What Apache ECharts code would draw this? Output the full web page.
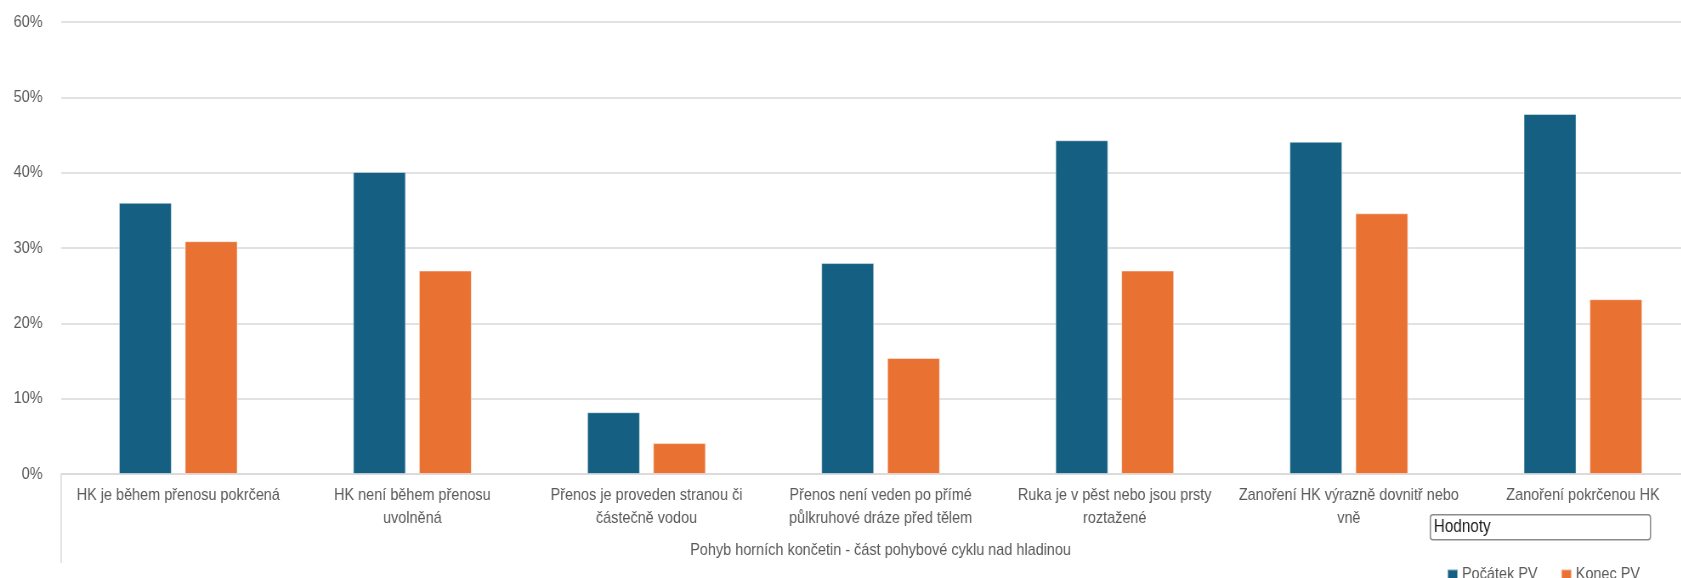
<!DOCTYPE html>
<html lang="cs">
<head>
<meta charset="utf-8">
<title>Pohyb horních končetin</title>
<script src="https://cdn.jsdelivr.net/npm/echarts@6/dist/echarts.min.js"></script>
<style>
  html, body { margin: 0; padding: 0; background: #ffffff; overflow: hidden; }
  #wrap { width: 1681px; height: 578px; overflow: hidden; }
  /* the chart is laid out wider and condensed horizontally, giving the narrow lettering */
  #chart { width: 1978px; height: 578px; transform: scaleX(0.85); transform-origin: 0 0; }
</style>
</head>
<body>
<div id="wrap"><div id="chart"></div></div>
<script>
// Categories (upper-limb movement faults during the recovery phase)
const categories = [
  'HK je během přenosu pokrčená',
  'HK není během přenosu\nuvolněná',
  'Přenos je proveden stranou či\nčástečně vodou',
  'Přenos není veden po přímé\npůlkruhové dráze před tělem',
  'Ruka je v pěst nebo jsou prsty\nroztažené',
  'Zanoření HK výrazně dovnitř nebo\nvně',
  'Zanoření pokrčenou HK'
];

// Share of swimmers (%) at the start and at the end of the course
const pocatekPV = [36.0, 40.1, 8.2, 28.0, 44.3, 44.1, 47.8];
const konecPV   = [30.9, 27.0, 4.1, 15.4, 27.0, 34.6, 23.2];

const seriesNames = ['Počátek PV', 'Konec PV'];
const axisTitle = 'Pohyb horních končetin - část pohybové cyklu nad hladinou';
const fieldButton = 'Hodnoty';

const FONT = '"Liberation Sans", Arial, sans-serif';
const TEXT_GRAY = '#595959';
const GRID_GRAY = '#d9d9d9';

const chart = echarts.init(document.getElementById('chart'), null, { renderer: 'canvas' });

chart.setOption({
  animation: false,
  backgroundColor: '#ffffff',
  textStyle: { fontFamily: FONT },
  grid: { left: 72, top: 22, width: 1928, height: 452, containLabel: false, outerBoundsMode: 'none' },
  legend: {
    data: seriesNames,
    left: 1697,
    top: 561,
    icon: 'rect',
    itemWidth: 12,
    itemHeight: 10,
    itemGap: 27,
    textStyle: { fontFamily: FONT, fontSize: 17, color: TEXT_GRAY }
  },
  xAxis: {
    type: 'category',
    data: categories,
    name: axisTitle,
    nameLocation: 'middle',
    nameGap: 68,
    nameTextStyle: { fontFamily: FONT, fontSize: 17, color: TEXT_GRAY },
    axisLine: { lineStyle: { color: GRID_GRAY, width: 1.5 } },
    axisTick: { show: false },
    axisLabel: {
      interval: 0,
      margin: 10,
      fontFamily: FONT,
      fontSize: 17,
      lineHeight: 23,
      color: TEXT_GRAY,
      align: 'center'
    }
  },
  yAxis: {
    type: 'value',
    min: 0,
    max: 60,
    interval: 10,
    axisLine: { show: false },
    axisTick: { show: false },
    axisLabel: {
      margin: 22,
      fontFamily: FONT,
      fontSize: 17,
      color: TEXT_GRAY,
      formatter: '{value}%'
    },
    splitLine: { lineStyle: { color: GRID_GRAY, width: 1.5 } }
  },
  series: [
    {
      name: seriesNames[0],
      type: 'bar',
      data: pocatekPV,
      barWidth: 62,
      barGap: '25%',
      itemStyle: { color: '#156082', borderColor: 'rgba(255,255,255,0.45)', borderWidth: 1 }
    },
    {
      name: seriesNames[1],
      type: 'bar',
      data: konecPV,
      barWidth: 62,
      barGap: '25%',
      itemStyle: { color: '#E97132', borderColor: 'rgba(255,255,255,0.45)', borderWidth: 1 }
    }
  ],
  graphic: [
    {
      // left boundary line of the category axis area
      type: 'line',
      shape: { x1: 72, y1: 474, x2: 72, y2: 563 },
      style: { stroke: GRID_GRAY, lineWidth: 1.5 }
    },
    {
      // pivot field button
      type: 'group',
      left: 1682,
      top: 514,
      children: [
        {
          type: 'rect',
          shape: { x: 0, y: 0, width: 259, height: 25, r: 3 },
          style: { fill: '#ffffff', stroke: '#8a8a8a', lineWidth: 1.5 }
        },
        {
          type: 'text',
          x: 4,
          y: 12.5,
          style: {
            text: fieldButton,
            fontFamily: FONT,
            fontSize: 18,
            fill: '#1a1a1a',
            verticalAlign: 'middle'
          }
        }
      ]
    }
  ]
});
</script>
</body>
</html>
